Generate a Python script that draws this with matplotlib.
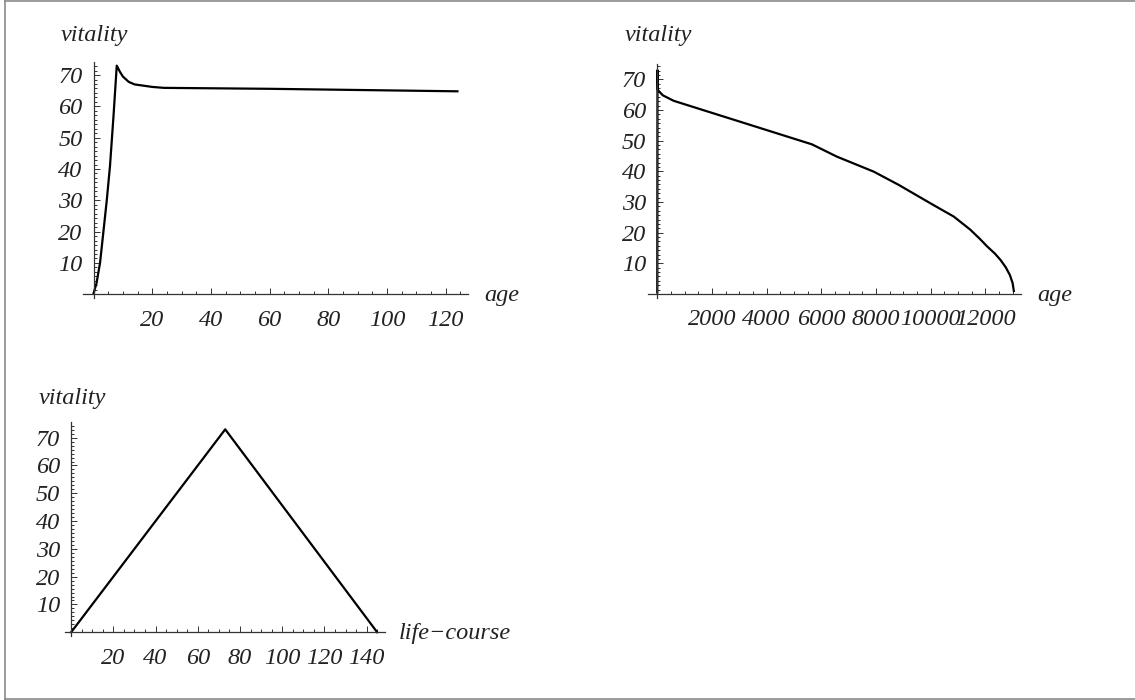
import matplotlib
matplotlib.use("Agg")
import matplotlib.pyplot as plt
from matplotlib.ticker import FixedLocator, MultipleLocator
from matplotlib.lines import Line2D

# vitality over the first 124 years
age1 = [0, 1, 2.2, 3.3, 4.5, 5.6, 6.8, 7.9, 9, 10, 12, 14, 17, 20, 24, 60, 124]
vit1 = [0.3, 3.5, 10, 19.5, 30, 41, 57, 73, 71, 69.5, 67.8, 67, 66.6, 66.2, 65.9, 65.6, 64.8]

# vitality over the long run
age2 = [0, 8, 24, 200, 600, 5660, 6570, 7920, 8830, 9990, 10500, 10840, 11450,
        11800, 12060, 12350, 12550, 12750, 12900, 13000, 13045]
vit2 = [0.5, 73, 66.5, 64.8, 63, 48.8, 44.8, 39.9, 35.6, 29.6, 27.0, 25.3, 21.0,
        18.0, 15.6, 13.2, 11.2, 8.7, 6.2, 3.6, 1]

# symmetric life-course
course3 = [0, 73, 145]
vit3 = [0, 73, 0]

xticks1 = [20, 40, 60, 80, 100, 120]
xticks2 = [2000, 4000, 6000, 8000, 10000, 12000]
xticks3 = [20, 40, 60, 80, 100, 120, 140]
yticks = [10, 20, 30, 40, 50, 60, 70]

W, H = 1135, 700
FONT = "Liberation Serif"
INK = "#222222"
FS = 17.5

plt.rcParams["font.family"] = FONT
plt.rcParams["font.style"] = "italic"

fig = plt.figure(figsize=(W / 100, H / 100), dpi=100)


def make_axes(left, right, top, bottom, xlim, ylim):
    # pixel box -> figure fraction
    ax = fig.add_axes([left / W, 1 - bottom / H, (right - left) / W, (bottom - top) / H])
    ax.set_xlim(*xlim)
    ax.set_ylim(*ylim)
    ax.patch.set_alpha(0)
    for s in ("top", "right"):
        ax.spines[s].set_visible(False)
    for s in ("left", "bottom"):
        ax.spines[s].set_position(("data", 0))
        ax.spines[s].set_color("#333333")
        ax.spines[s].set_linewidth(0.9)
    ax.tick_params(which="both", direction="in", colors="#333333", width=0.7,
                   labelsize=FS, labelcolor=INK)
    ax.tick_params(which="major", length=4.5)
    ax.tick_params(which="minor", length=2.5)
    ax.tick_params(axis="x", pad=11)
    ax.tick_params(axis="y", pad=8)
    ax.yaxis.set_major_locator(FixedLocator(yticks))
    ax.yaxis.set_minor_locator(MultipleLocator(10 / 7))
    ax.yaxis.set_major_formatter(lambda v, p: f"{v:g}")
    return ax


def px(x, y, text):
    fig.text(x / W, 1 - y / H, text, fontsize=FS, color=INK, family=FONT,
             style="italic", va="center", ha="left")


# top left panel
ax1 = make_axes(83.3, 467.7, 62.5, 298.0, (-3.5, 127.5), (-1.2, 74))
ax1.plot(age1, vit1, color="black", lw=1.6)
ax1.xaxis.set_major_locator(FixedLocator(xticks1))
ax1.xaxis.set_minor_locator(MultipleLocator(5))
px(61, 36, "vitality")
px(484, 296, "age")

# top right panel
ax2 = make_axes(647.7, 1020.8, 64.0, 297.7, (-350, 13300), (-1.2, 75))
ax2.plot(age2, vit2, color="black", lw=1.6)
ax2.xaxis.set_major_locator(FixedLocator(xticks2))
ax2.xaxis.set_minor_locator(MultipleLocator(500))
px(625, 36, "vitality")
px(1037, 296, "age")

# bottom left panel
ax3 = make_axes(65.0, 385.0, 422.4, 635.6, (-2.9, 148.7), (-1.2, 75.5))
ax3.plot(course3, vit3, color="black", lw=1.6)
ax3.xaxis.set_major_locator(FixedLocator(xticks3))
ax3.xaxis.set_minor_locator(MultipleLocator(5))
px(39, 398, "vitality")
px(399, 633, "life\u2212course")

# outer frame: left, top and bottom edges
frame = dict(color="#8a8a8a", lw=1.2, transform=fig.transFigure)
fig.add_artist(Line2D([4.5 / W, 4.5 / W], [0.5 / H, 1 - 0.5 / H], **frame))
fig.add_artist(Line2D([4.5 / W, 1], [1 - 0.7 / H, 1 - 0.7 / H], **frame))
fig.add_artist(Line2D([4.5 / W, 1], [1.2 / H, 1.2 / H], **frame))

fig.savefig("out.png", dpi=100)
